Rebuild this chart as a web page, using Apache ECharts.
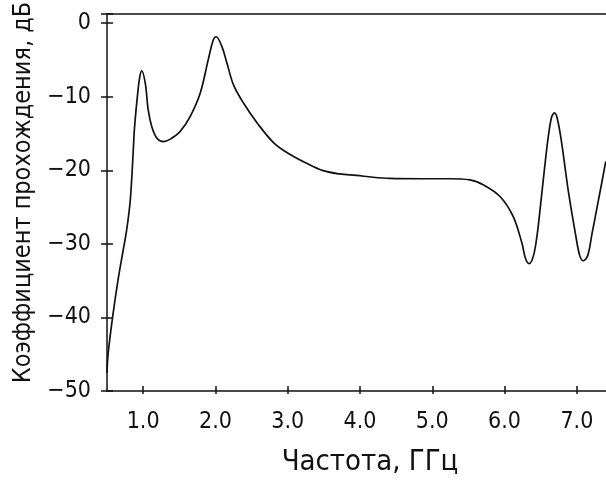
<!DOCTYPE html>
<html>
<head>
<meta charset="utf-8">
<script src="https://cdn.jsdelivr.net/npm/echarts@6/dist/echarts.min.js"></script>
<style>html,body{margin:0;padding:0;background:#fff}#c{width:606px;height:488px}</style>
</head>
<body>
<div id="c"></div>
<script>
var freqGHz = [0.5, 0.515, 0.577, 0.656, 0.725, 0.772, 0.818, 0.841, 0.864, 0.88, 0.92, 0.95, 0.98,
  1.03, 1.07, 1.12, 1.19, 1.28, 1.37, 1.51, 1.65, 1.79, 1.9, 1.97, 2.01,
  2.09, 2.16, 2.25, 2.39, 2.58, 2.81, 3.04, 3.26, 3.49, 3.72, 3.95, 4.18, 4.41,
  4.87, 5.24, 5.52, 5.71, 5.94, 6.12, 6.24, 6.29, 6.34, 6.40, 6.45, 6.50, 6.55, 6.60, 6.65, 6.69,
  6.73, 6.79, 6.88, 6.98, 7.04, 7.09, 7.15, 7.21, 7.30, 7.40];
var transmissionDb = [-47.5, -45, -40, -34.7, -30.8, -28.1, -24.5, -21.3, -17.2, -14.3, -10, -7.5, -6.5,
  -8.2, -11.8, -14.1, -15.65, -16.1, -15.8, -14.75, -12.7, -9.5, -5.0, -2.3, -1.85,
  -3.2, -5.46, -8.4, -10.9, -13.6, -16.3, -17.9, -19.05, -20.05, -20.5, -20.7, -20.95, -21.1,
  -21.15, -21.15, -21.3, -22.0, -23.6, -26.3, -29.9, -32.0, -32.7, -31.6, -28.8, -24.5, -20, -15.8, -12.8, -12.2,
  -13.0, -16.3, -22.7, -28.6, -31.6, -32.3, -31.6, -28.6, -24.0, -18.8];
var xTickValues = [1, 2, 3, 4, 5, 6, 7];
var xTickLabels = ['1.0', '2.0', '3.0', '4.0', '5.0', '6.0', '7.0'];
var yTickValues = [-50, -40, -30, -20, -10, 0];
var yTickLabels = ['\u221250', '\u221240', '\u221230', '\u221220', '\u221210', '0'];
var xName = 'Частота, ГГц';
var yName = 'Коэффициент прохождения, дБ';

var FONT = "'DejaVu Sans Condensed', 'DejaVu Sans', sans-serif";
var X_MIN = 0.5, X_MAX = 7.5, Y_MIN = -50, Y_MAX = 1.24, Y_STEP = 10;

var seriesData = freqGHz.map(function (f, i) { return [f, transmissionDb[i]]; });
function xLab(v) { var i = xTickValues.indexOf(v); return i >= 0 ? xTickLabels[i] : ''; }
function yLab(v) {
  for (var i = 0; i < yTickValues.length; i++) {
    if (Math.abs(yTickValues[i] - v) < 1e-6) return yTickLabels[i];
  }
  return '';
}

var chart = echarts.init(document.getElementById('c'), null, {renderer: 'canvas'});
function ls() { return {color: '#111', width: 1.5}; }
chart.setOption({
  animation: false,
  backgroundColor: '#fff',
  grid: {left: 107, right: -7, top: 14, bottom: 97, containLabel: false, outerBoundsMode: 'none'},
  xAxis: [{
    type: 'value', min: X_MIN, max: X_MAX, position: 'bottom',
    name: xName, nameLocation: 'middle', nameGap: 57,
    nameTextStyle: {fontFamily: FONT, fontSize: 29, color: '#111', padding: [0, 0, 0, 20]},
    axisLine: {show: true, onZero: false, lineStyle: ls()},
    axisTick: {show: true, inside: false, length: 3, lineStyle: ls(), customValues: xTickValues},
    axisLabel: {show: true, margin: 20, fontFamily: FONT, fontSize: 23, color: '#111',
      customValues: xTickValues, formatter: xLab},
    splitLine: {show: false}
  }, {
    type: 'value', min: X_MIN, max: X_MAX, position: 'top',
    axisLine: {show: true, onZero: false, lineStyle: ls()},
    axisTick: {show: false}, axisLabel: {show: false}, splitLine: {show: false}
  }, {
    type: 'value', min: X_MIN, max: X_MAX, position: 'bottom',
    axisLine: {show: true, onZero: false, lineStyle: {color: 'rgba(0,0,0,0)', width: 1}},
    axisTick: {show: true, inside: true, length: 5, lineStyle: ls(), customValues: xTickValues},
    axisLabel: {show: false}, splitLine: {show: false}
  }],
  yAxis: [{
    type: 'value', min: Y_MIN, max: Y_MAX, interval: Y_STEP, position: 'left',
    name: yName, nameLocation: 'middle', nameGap: 61, nameRotate: 90,
    nameTextStyle: {fontFamily: FONT, fontSize: 25, color: '#111', padding: [0, 0, 0, 20]},
    axisLine: {show: true, onZero: false, lineStyle: ls()},
    axisTick: {show: true, inside: false, length: 6, lineStyle: ls()},
    axisLabel: {show: true, margin: 16, fontFamily: FONT, fontSize: 23, color: '#111',
      showMaxLabel: true, showMinLabel: true, formatter: yLab},
    splitLine: {show: false}
  }, {
    type: 'value', min: Y_MIN, max: Y_MAX, interval: Y_STEP, position: 'left',
    axisLine: {show: false, onZero: false},
    axisTick: {show: true, inside: true, length: 6, lineStyle: ls()},
    axisLabel: {show: false}, splitLine: {show: false}
  }],
  series: [{
    type: 'line', xAxisIndex: 0, yAxisIndex: 0,
    data: seriesData, smooth: 0.35, showSymbol: false, symbol: 'none',
    clip: true,
    lineStyle: {color: '#111', width: 1.7}
  }]
});
</script>
</body>
</html>
